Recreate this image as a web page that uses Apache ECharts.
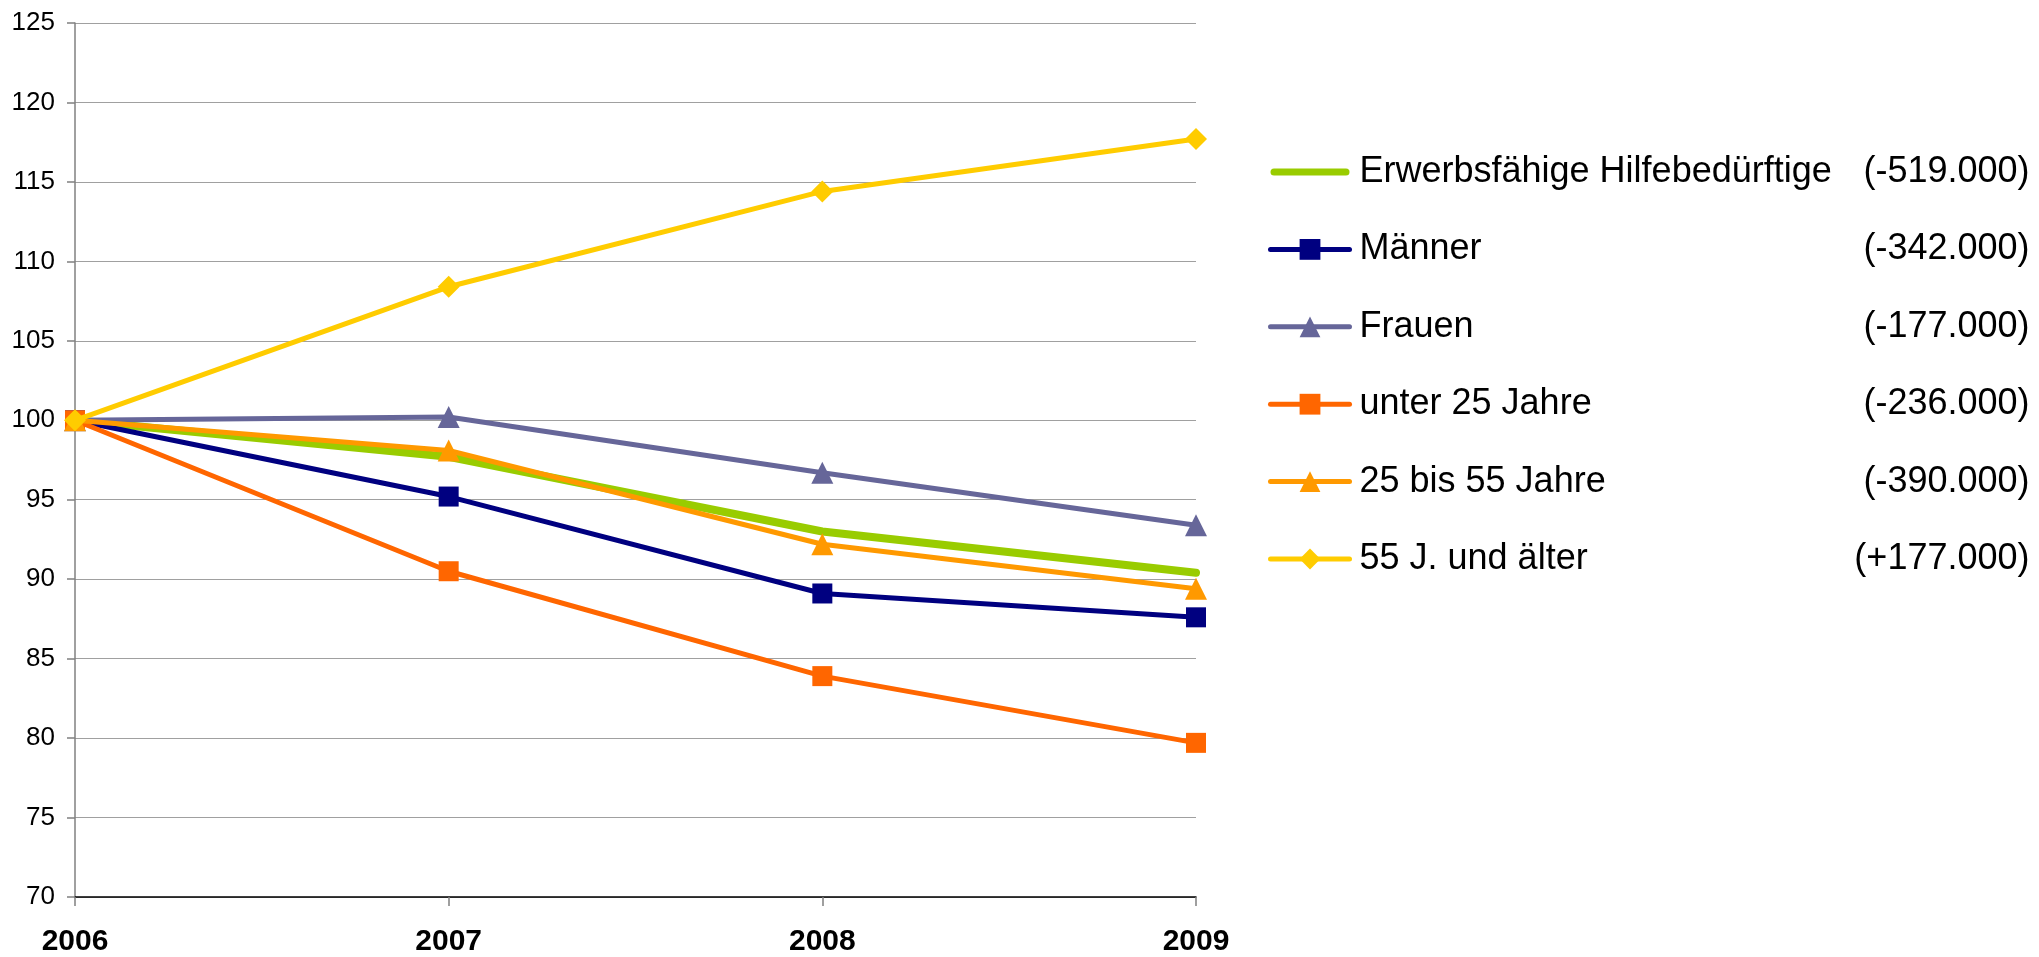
<!DOCTYPE html>
<html>
<head>
<meta charset="utf-8">
<script src="https://cdn.jsdelivr.net/npm/echarts@6/dist/echarts.min.js"></script>
<style>
  html, body { margin: 0; padding: 0; background: #ffffff; }
  #chart { width: 2039px; height: 957px; }
</style>
</head>
<body>
<div id="chart"></div>
<script>
// Index 2006 = 100
const years = ['2006', '2007', '2008', '2009'];
const yMin = 70;
const yMax = 125;
const yStep = 5;

const seriesNames = [
  'Erwerbsfähige Hilfebedürftige',
  'Männer',
  'Frauen',
  'unter 25 Jahre',
  '25 bis 55 Jahre',
  '55 J. und älter'
];
const changeLabels = ['(-519.000)', '(-342.000)', '(-177.000)', '(-236.000)', '(-390.000)', '(+177.000)'];

const erwerbsfaehige = [100, 97.7, 93.0, 90.4];
const maenner = [100, 95.2, 89.1, 87.6];
const frauen = [100, 100.2, 96.7, 93.4];
const unter25 = [100, 90.5, 83.9, 79.7];
const von25bis55 = [100, 98.1, 92.2, 89.4];
const ab55 = [100, 108.4, 114.4, 117.7];

const seriesValues = [erwerbsfaehige, maenner, frauen, unter25, von25bis55, ab55];
const seriesColors = ['#99cc00', '#000080', '#666699', '#ff6600', '#ff9900', '#ffcc00'];
const seriesSymbols = ['none', 'rect', 'triangle', 'rect', 'triangle', 'diamond'];
const seriesWidths = [8, 5, 5, 5, 5, 5];

const FONT = '"Liberation Sans", Arial, sans-serif';

// plain thick bar used as the legend key of the series drawn without markers
const plainLineIcon = 'path://M3.5,0 H75.5 A3.5,3.5 0 0 1 75.5,7 H3.5 A3.5,3.5 0 0 1 3.5,0 Z';

const chart = echarts.init(document.getElementById('chart'), null, { renderer: 'canvas' });

const series = seriesNames.map((name, i) => ({
  name: name,
  type: 'line',
  data: seriesValues[i],
  symbol: seriesSymbols[i],
  symbolSize: seriesSymbols[i] === 'rect' ? 20 : 22,
  showSymbol: seriesSymbols[i] !== 'none',
  lineStyle: { color: seriesColors[i], width: seriesWidths[i], cap: 'round', join: 'round' },
  itemStyle: { color: seriesColors[i], borderWidth: 0 },
  emphasis: { disabled: true },
  z: 2 + i
}));

const legendData = seriesNames.map((name, i) =>
  seriesSymbols[i] === 'none'
    ? { name: name, icon: plainLineIcon, itemStyle: { color: seriesColors[i] } }
    : { name: name }
);

chart.setOption({
  animation: false,
  backgroundColor: '#ffffff',
  textStyle: { fontFamily: FONT },
  grid: { left: 75, right: 843, top: 23, bottom: 58, containLabel: false },
  xAxis: {
    type: 'category',
    data: years,
    boundaryGap: false,
    axisLine: { show: true, lineStyle: { color: '#000000', width: 1.5 } },
    axisTick: { show: true, length: 9, lineStyle: { color: '#808080', width: 1.5 } },
    axisLabel: {
      interval: 0,
      margin: 30,
      color: '#000000',
      fontSize: 30,
      fontWeight: 'bold',
      fontFamily: FONT,
      lineHeight: 30
    },
    splitLine: { show: false }
  },
  yAxis: {
    type: 'value',
    min: yMin,
    max: yMax,
    interval: yStep,
    axisLine: { show: true, lineStyle: { color: '#808080', width: 1.5 } },
    axisTick: { show: true, length: 8, lineStyle: { color: '#808080', width: 1.5 } },
    axisLabel: { margin: 20, color: '#000000', fontSize: 26, fontFamily: FONT },
    splitLine: { show: true, lineStyle: { color: '#a0a0a0', width: 1.2 } }
  },
  legend: {
    orient: 'vertical',
    left: 1263,
    top: 149,
    itemWidth: 79,
    itemHeight: 26,
    itemGap: 41.4,
    selectedMode: false,
    data: legendData,
    lineStyle: { width: 'inherit' },
    formatter: function (name) {
      const idx = seriesNames.indexOf(name);
      return '{n|' + name + '}{v|' + changeLabels[idx] + '}';
    },
    textStyle: {
      fontFamily: FONT,
      fontSize: 36,
      color: '#000000',
      rich: {
        n: { fontFamily: FONT, fontSize: 36, color: '#000000', width: 490, padding: [0, 0, 0, 5], lineHeight: 40 },
        v: { fontFamily: FONT, fontSize: 36, color: '#000000', width: 180, align: 'right', lineHeight: 40 }
      }
    }
  },
  series: series
});
</script>
</body>
</html>
